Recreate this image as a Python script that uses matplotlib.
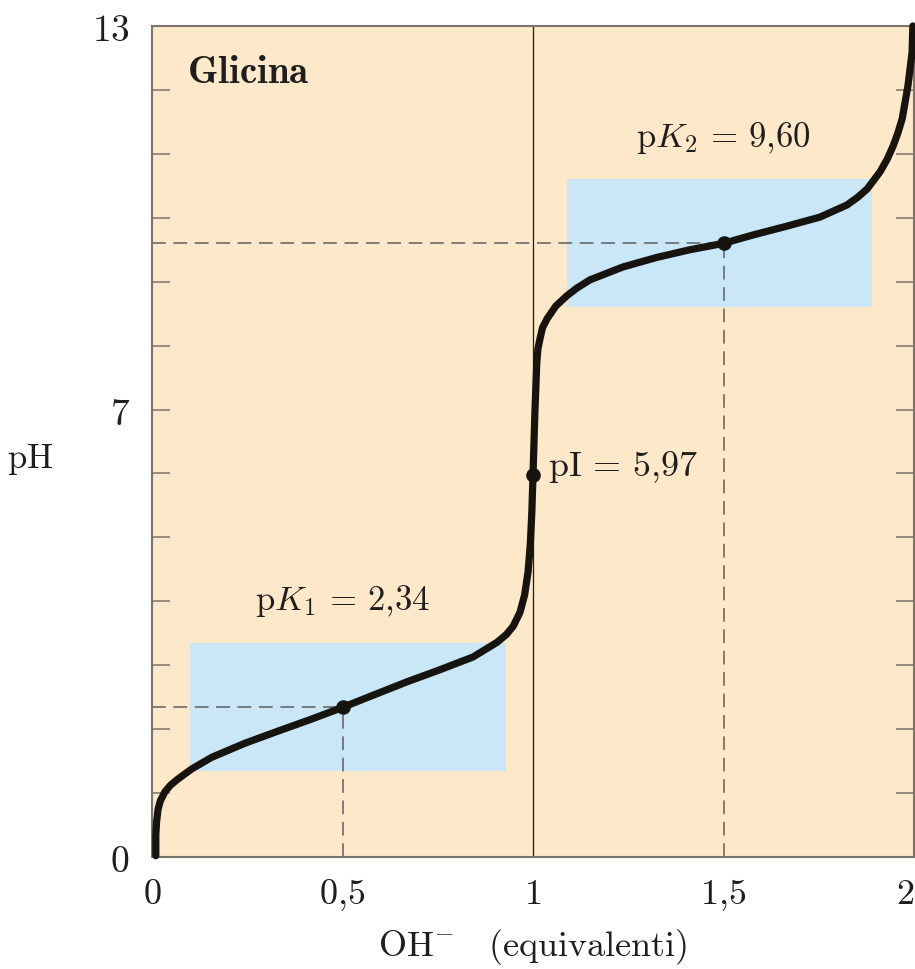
import matplotlib
matplotlib.use('Agg')
import matplotlib.pyplot as plt

# ── Data ──────────────────────────────────────────────────────────────────────
# titration curve of glycine (OH- equivalents, pH)
oh_eq = [0.010, 0.010, 0.012, 0.016, 0.022, 0.034, 0.048, 0.068, 0.105, 0.157,
         0.244, 0.331, 0.420, 0.500, 0.580, 0.669, 0.756, 0.843, 0.906, 0.930,
         0.948, 0.966, 0.978, 0.987, 0.993, 0.997, 1.000, 1.005, 1.010, 1.013,
         1.018, 1.025, 1.037, 1.060, 1.089, 1.115, 1.150, 1.236, 1.325, 1.412,
         1.500, 1.577, 1.667, 1.753, 1.824, 1.852, 1.877, 1.911, 1.930, 1.945,
         1.958, 1.969, 1.984, 1.995, 1.997]
ph = [0.02, 0.35, 0.55, 0.75, 0.88, 1.02, 1.12, 1.22, 1.38, 1.56,
      1.78, 1.97, 2.16, 2.34, 2.53, 2.74, 2.93, 3.13, 3.36, 3.48,
      3.61, 3.83, 4.10, 4.46, 4.90, 5.40, 5.97, 6.96, 7.74, 7.95,
      8.10, 8.28, 8.42, 8.62, 8.78, 8.90, 9.03, 9.23, 9.38, 9.50,
      9.60, 9.73, 9.87, 10.01, 10.20, 10.32, 10.45, 10.72, 10.92, 11.12,
      11.33, 11.55, 12.06, 12.59, 13.0]

# key points: (equivalents, pH)
key_x = [0.5, 1.0, 1.5]
key_y = [2.34, 5.97, 9.60]

# buffer regions (x range, y range)
buffer_x = [(0.10, 0.93), (1.09, 1.89)]
buffer_y = [(1.34, 3.34), (8.60, 10.60)]

x_ticks = [0, 0.5, 1, 1.5, 2]
x_labels = ['$0$', '$0{,}5$', '$1$', '$1{,}5$', '$2$']
y_ticks = list(range(0, 14))
y_labels = {0: '$0$', 7: '$7$', 13: '$13$'}

# ── Style ─────────────────────────────────────────────────────────────────────
PALETTE = {
    'bg':     '#fde8c9',
    'blue':   '#c9e7f7',
    'curve':  '#17130f',
    'spine':  '#7a746d',
    'dash':   '#5e5e5e',
    'text':   '#1e1e1e',
}
plt.rcParams['mathtext.fontset'] = 'cm'

fig = plt.figure(figsize=(9.15, 9.70), dpi=100)
ax = fig.add_axes([152 / 915, 112 / 970, 762 / 915, 831 / 970])
ax.set_facecolor(PALETTE['bg'])
ax.set_xlim(0, 2)
ax.set_ylim(0, 13)

# buffer boxes
for (x0, x1), (y0, y1) in zip(buffer_x, buffer_y):
    ax.fill_between([x0, x1], y0, y1, color=PALETTE['blue'], lw=0, zorder=1)

# vertical reference at 1 equivalent
ax.axvline(1, color='#1a1a1a', lw=0.9, zorder=2)

# dashed guides for pK values
for kx, ky in [(key_x[0], key_y[0]), (key_x[2], key_y[2])]:
    ax.plot([0, kx], [ky, ky], color=PALETTE['dash'], lw=1.1,
            dashes=(9, 5), zorder=2)
    ax.plot([kx, kx], [0, ky], color=PALETTE['dash'], lw=1.1,
            dashes=(9, 5), zorder=2)

ax.plot(oh_eq, ph, color=PALETTE['curve'], lw=5.2, solid_capstyle='round',
        solid_joinstyle='round', zorder=4, clip_on=False)
ax.plot(key_x, key_y, 'o', color=PALETTE['curve'], ms=9.5, zorder=5)

# annotations
ax.text(0.092, 12.3, r'$\mathbf{Glicina}$', fontsize=28, ha='left',
        va='center', color=PALETTE['text'])
ax.text(0.5, 3.88, r'$\mathrm{p}K_1\, =\, 2{,}34$', fontsize=25,
        ha='center', va='baseline', color=PALETTE['text'])
ax.text(1.5, 11.12, r'$\mathrm{p}K_2\, =\, 9{,}60$', fontsize=25,
        ha='center', va='baseline', color=PALETTE['text'])
ax.text(1.039, 5.98, r'$\mathrm{pI}\, =\, 5{,}97$', fontsize=26,
        ha='left', va='baseline', color=PALETTE['text'])

# axes & ticks
for s in ax.spines.values():
    s.set_color(PALETTE['spine'])
    s.set_linewidth(1.5)

ax.set_xticks(x_ticks)
ax.set_xticklabels(x_labels)
ax.get_xticklabels()[-1].set_horizontalalignment('right')
ax.set_yticks(y_ticks)
ax.set_yticklabels([y_labels.get(t, '') for t in y_ticks])
ax.tick_params(axis='x', length=0, pad=14, labelsize=26,
               labelcolor=PALETTE['text'])
ax.tick_params(axis='y', direction='in', length=13, width=1.1,
               color=PALETTE['spine'], right=True, pad=16, labelsize=27,
               labelcolor=PALETTE['text'])

ax.set_xlabel(r'$\mathrm{OH^{-}\quad (equivalenti)}$', fontsize=26,
              color=PALETTE['text'], labelpad=10)
ax.set_ylabel(r'$\mathrm{pH}$', fontsize=25, rotation=0,
              color=PALETTE['text'], va='center', ha='left')
ax.yaxis.set_label_coords(-145 / 762, (858 - 460) / 831)

fig.savefig('out.png', dpi=100, facecolor='white')
